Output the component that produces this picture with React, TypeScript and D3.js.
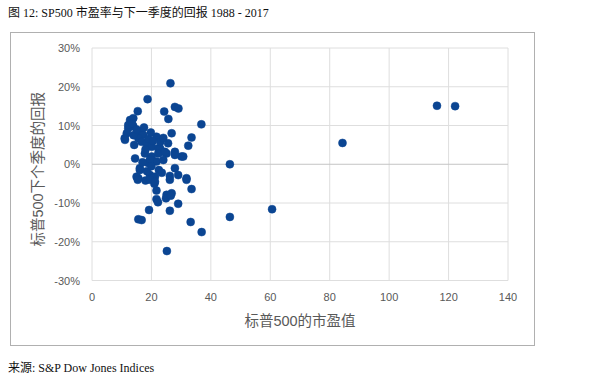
import * as d3 from "d3";

// P/E values (x) and next-quarter returns in % (y)
const peValues: number[] = [
  116.1, 122.2, 84.3, 46.4, 46.4, 60.6, 36.8, 36.9,
  26.4, 18.7, 27.9, 29.1, 15.4, 24.3, 25.7,
  12.8, 12.2, 13.9, 11.7, 11.0, 12.2, 11.1, 13.9,
  16.1, 17.2, 15.6, 16.7, 18.4, 20.1, 21.7, 22.3, 23.4, 25.6, 26.8, 33.5, 32.4, 27.9, 25.1, 22.9, 30.1,
  14.5, 17.8, 20.1, 22.3, 24.5, 18.9, 21.7, 24.0, 27.9, 30.7,
  16.1, 15.6, 19.5, 21.2, 27.9, 29.0, 31.8, 15.0, 16.1, 20.1, 26.2,
  33.5, 21.7, 25.1, 26.8, 21.7, 22.2, 29.0, 19.2, 26.2, 15.6, 16.7, 33.2, 25.2, 24.9, 26.5,
  14.0, 17.5, 19.0, 18.0, 19.5, 23.0, 20.5, 17.0, 18.5, 22.5, 20.0, 23.5, 13.5, 15.0, 19.8, 24.0, 14.2, 21.0, 18.0,
  15.4, 19.5, 21.2, 26.2, 31.8,
];
const returnValues: number[] = [
  15.1, 15.0, 5.5, 0.0, -13.6, -11.6, 10.3, -17.5,
  20.9, 16.8, 14.8, 14.4, 13.7, 13.6, 11.7,
  11.4, 9.3, 9.8, 8.0, 6.7, 10.1, 6.3, 11.9,
  8.4, 7.6, 6.7, 5.8, 5.4, 4.5, 7.1, 4.1, 3.2, 5.4, 8.0, 6.9, 4.8, 3.2, 2.8, 4.1, 2.0,
  1.5, 2.8, 2.0, 2.8, 3.2, 0.3, 0.7, 1.1, 2.4, 2.0,
  -1.0, -3.6, -2.8, -3.2, -1.0, -2.8, -3.6, -3.2, -1.5, -3.6, -3.0,
  -6.4, -6.8, -7.9, -7.5, -9.0, -9.8, -10.2, -11.8, -12.0, -14.2, -14.4, -14.9, -22.4, -8.8, -8.1,
  7.5, 9.5, 6.5, 3.8, 1.2, 5.8, 6.0, 0.5, -1.8, -1.5, -0.5, -2.2, 10.5, 9.0, 8.2, 6.8, 5.0, -5.0, -4.2,
  -4.0, -4.0, -4.5, -4.0, -4.0,
];
const xTicks: number[] = [0, 20, 40, 60, 80, 100, 120, 140];
const yTicks: number[] = [-30, -20, -10, 0, 10, 20, 30];

const title = "图 12: SP500 市盈率与下一季度的回报 1988 - 2017";
const xTitle = "标普500的市盈值";
const yTitle = "标普500下个季度的回报";
const source = "来源: S&P Dow Jones Indices";

const serif = "'Liberation Serif', 'Times New Roman', 'Noto Sans CJK SC', serif";
const sans = "'Liberation Sans', 'Noto Sans CJK SC', sans-serif";

export default function App() {
  const x = d3.scaleLinear().domain([0, 140]).range([92, 508]);
  const y = d3.scaleLinear().domain([-30, 30]).range([280.5, 48]);
  const pts = peValues.map((v, i) => ({ pe: v, ret: returnValues[i] }));

  return (
    <svg
      width={607}
      height={381}
      style={{ position: "absolute", left: 0, top: 0, background: "#fff" }}
    >
      <text x={8} y={17} fontFamily={serif} fontSize={12} fill="#111">
        {title}
      </text>
      <rect x={10.5} y={32.5} width={524} height={313} fill="#fff" stroke="#b0b0b0" />

      {/* grid */}
      {xTicks.map((t) => (
        <line key={"gx" + t} x1={x(t)} x2={x(t)} y1={y(30)} y2={y(-30)} stroke="#dedede" />
      ))}
      {yTicks.map((t) => (
        <line
          key={"gy" + t}
          x1={x(0)}
          x2={x(140)}
          y1={y(t)}
          y2={y(t)}
          stroke={t === 0 ? "#c4c4c4" : "#dedede"}
        />
      ))}

      {/* tick labels */}
      {yTicks.map((t) => (
        <text
          key={"ly" + t}
          x={80}
          y={y(t) + 4}
          textAnchor="end"
          fontFamily={sans}
          fontSize={11}
          fill="#595959"
        >
          {t + "%"}
        </text>
      ))}
      {xTicks.map((t) => (
        <text
          key={"lx" + t}
          x={x(t)}
          y={301}
          textAnchor="middle"
          fontFamily={sans}
          fontSize={11}
          fill="#595959"
        >
          {t}
        </text>
      ))}

      <text
        x={x(70)}
        y={326}
        textAnchor="middle"
        fontFamily={sans}
        fontSize={14.5}
        fill="#595959"
      >
        {xTitle}
      </text>
      <text
        transform={`translate(43, ${y(0) + 5}) rotate(-90)`}
        textAnchor="middle"
        fontFamily={sans}
        fontSize={14.5}
        fill="#595959"
      >
        {yTitle}
      </text>

      {/* points */}
      {pts.map((d, i) => (
        <circle
          key={i}
          cx={x(d.pe)}
          cy={y(d.ret)}
          r={4}
          fill="#0b4592"
          stroke="#0b4592"
          strokeWidth={0.5}
        />
      ))}

      <text x={8} y={372} fontFamily={serif} fontSize={12} fill="#111">
        {source}
      </text>
    </svg>
  );
}
